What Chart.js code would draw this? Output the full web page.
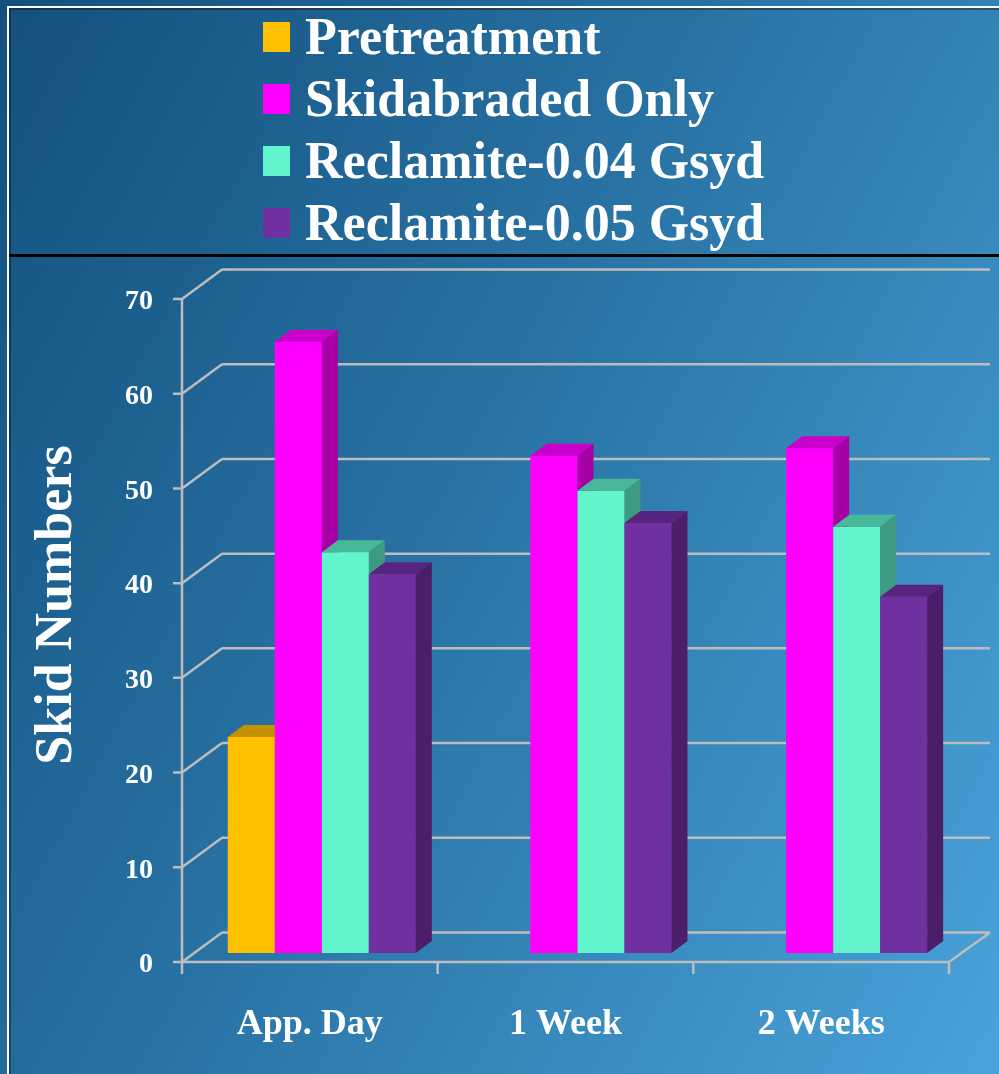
<!DOCTYPE html>
<html>
<head>
<meta charset="utf-8">
<script src="https://cdn.jsdelivr.net/npm/chart.js@4.4.1/dist/chart.umd.min.js"></script>
<style>
  body { margin: 0; background: #1d5f8c; overflow: hidden; }
  #page {
    position: relative; width: 999px; height: 1074px;
    background: linear-gradient(118deg, #13507e 0%, #2872a3 45%, #4aa3da 100%);
    font-family: "Liberation Serif", "DejaVu Serif", serif;
  }
  #frame {
    position: absolute; left: 7px; top: 6px; right: 0; bottom: 0;
    border-left: 2px solid #fff; border-top: 2px solid #fff;
    box-shadow: inset 2px 2px 0 rgba(0, 0, 0, 0.35);
  }
  #head {
    position: absolute; left: 9px; top: 8px; right: 0; height: 246px;
    border-bottom: 3px solid #000;
  }
  #legend { position: absolute; left: 263px; top: 6px; margin: 0; padding: 0; list-style: none; }
  #legend li { height: 62px; line-height: 62px; color: #fff; font-weight: bold; font-size: 52px; white-space: nowrap; }
  #legend span.box { display: inline-block; width: 27px; height: 30px; margin-right: 15px; vertical-align: 2px; }
  #myChart { position: absolute; left: 0; top: 0; }
</style>
</head>
<body>
<div id="page">
  <div id="frame"></div>
  <div id="head"></div>
  <ul id="legend"></ul>
  <canvas id="myChart" width="999" height="1074"></canvas>
</div>
<script>
var categories = ['App. Day', '1 Week', '2 Weeks'];
var seriesNames = ['Pretreatment', 'Skidabraded Only', 'Reclamite-0.04 Gsyd', 'Reclamite-0.05 Gsyd'];
var pretreatment = [22.8, null, null];
var skidabraded = [64.5, 52.5, 53.3];
var reclamite04 = [42.3, 48.8, 45.0];
var reclamite05 = [40.0, 45.4, 37.6];
var yTitle = 'Skid Numbers';
var yMax = 70;
var yStep = 10;

var frontColors = ['#ffc000', '#ff00ff', '#62f4cc', '#7030a0'];
var topColors = ['#c49200', '#cc00cc', '#48b898', '#57247f'];
var sideColors = ['#a07800', '#a600a6', '#3e9a80', '#4a1e68'];

var serif = '"Liberation Serif", "DejaVu Serif", serif';

// legend in the header box
var legendEl = document.getElementById('legend');
seriesNames.forEach(function (name, i) {
  var li = document.createElement('li');
  var box = document.createElement('span');
  box.className = 'box';
  box.style.background = frontColors[i];
  li.appendChild(box);
  li.appendChild(document.createTextNode(name));
  legendEl.appendChild(li);
});

// walls, floor and the 3d faces of the bars
var box3d = {
  id: 'box3d',
  beforeDatasetsDraw: function (chart) {
    var ctx = chart.ctx, a = chart.chartArea, y = chart.scales.y;
    var fl = a.left - 12, fr = a.right - 12, bl = a.left + 28, br = a.right + 29;
    var y0 = y.getPixelForValue(0);
    ctx.save();
    ctx.strokeStyle = '#bdbdbd';
    ctx.lineWidth = 2.5;
    ctx.beginPath();
    y.ticks.forEach(function (t) {
      var p = y.getPixelForValue(t.value);
      ctx.moveTo(bl, p - 20.5); ctx.lineTo(br, p - 20.5);
      ctx.moveTo(fl, p + 9); ctx.lineTo(bl, p - 20.5);
      ctx.moveTo(fl - 9, p + 9); ctx.lineTo(fl, p + 9);
    });
    ctx.moveTo(fl, y.getPixelForValue(yMax) + 9); ctx.lineTo(fl, y0 + 21);
    ctx.moveTo(fl, y0 + 9); ctx.lineTo(fr, y0 + 9); ctx.lineTo(br, y0 - 20.5);
    for (var i = 1; i <= categories.length; i++) {
      var xx = fl + i * (fr - fl) / categories.length;
      ctx.moveTo(xx, y0 + 9); ctx.lineTo(xx, y0 + 21);
    }
    ctx.stroke();
    ctx.restore();
  },
  // chart.js paints the datasets last-to-first, so repaint left-to-right
  // so that each bar's front hides the side of the bar before it
  afterDatasetsDraw: function (chart) {
    var ctx = chart.ctx;
    var dx = 16, dy = 12;
    ctx.save();
    chart.data.datasets.forEach(function (ds, k) {
      var meta = chart.getDatasetMeta(k);
      meta.data.forEach(function (bar, i) {
        if (ds.data[i] == null) return;
        bar.draw(ctx, chart.chartArea);
        var p = bar.getProps(['x', 'y', 'base', 'width'], true);
        var l = p.x - p.width / 2, r = p.x + p.width / 2;
        ctx.fillStyle = topColors[k];
        ctx.beginPath();
        ctx.moveTo(l, p.y); ctx.lineTo(l + dx, p.y - dy); ctx.lineTo(r + dx, p.y - dy); ctx.lineTo(r, p.y);
        ctx.closePath(); ctx.fill();
        ctx.fillStyle = sideColors[k];
        ctx.beginPath();
        ctx.moveTo(r, p.y); ctx.lineTo(r + dx, p.y - dy); ctx.lineTo(r + dx, p.base - dy); ctx.lineTo(r, p.base);
        ctx.closePath(); ctx.fill();
      });
    });
    ctx.restore();
  },
  afterDraw: function (chart) {
    var ctx = chart.ctx;
    ctx.save();
    ctx.translate(58, 605);
    ctx.rotate(-Math.PI / 2);
    ctx.fillStyle = '#fff';
    ctx.font = 'bold 52px ' + serif;
    ctx.textAlign = 'center';
    ctx.textBaseline = 'middle';
    ctx.fillText(yTitle, 0, 0);
    ctx.restore();
  }
};

var ctx = document.getElementById('myChart');
var myChart = new Chart(ctx, {
  type: 'bar',
  data: {
    labels: categories,
    datasets: [
      { label: seriesNames[0], data: pretreatment, backgroundColor: frontColors[0] },
      { label: seriesNames[1], data: skidabraded, backgroundColor: frontColors[1] },
      { label: seriesNames[2], data: reclamite04, backgroundColor: frontColors[2] },
      { label: seriesNames[3], data: reclamite05, backgroundColor: frontColors[3] }
    ]
  },
  options: {
    responsive: false,
    animation: false,
    layout: { padding: { top: 290, right: 38, bottom: 0, left: 0 } },
    datasets: { bar: { categoryPercentage: 0.735, barPercentage: 1, borderWidth: 0 } },
    plugins: { legend: { display: false }, tooltip: { enabled: false } },
    scales: {
      x: {
        grid: { display: false, drawTicks: false },
        border: { display: false },
        ticks: { color: '#fff', font: { family: serif, weight: 'bold', size: 36 }, padding: 50, labelOffset: -12 },
        afterFit: function (s) { s.height = 121; }
      },
      y: {
        min: 0,
        max: yMax,
        grid: { display: false, drawTicks: false },
        border: { display: false },
        ticks: { stepSize: yStep, color: '#fff', font: { family: serif, weight: 'bold', size: 28 }, padding: 41, labelOffset: 12 },
        afterFit: function (s) { s.width = 194; }
      }
    }
  },
  plugins: [box3d]
});
</script>
</body>
</html>
